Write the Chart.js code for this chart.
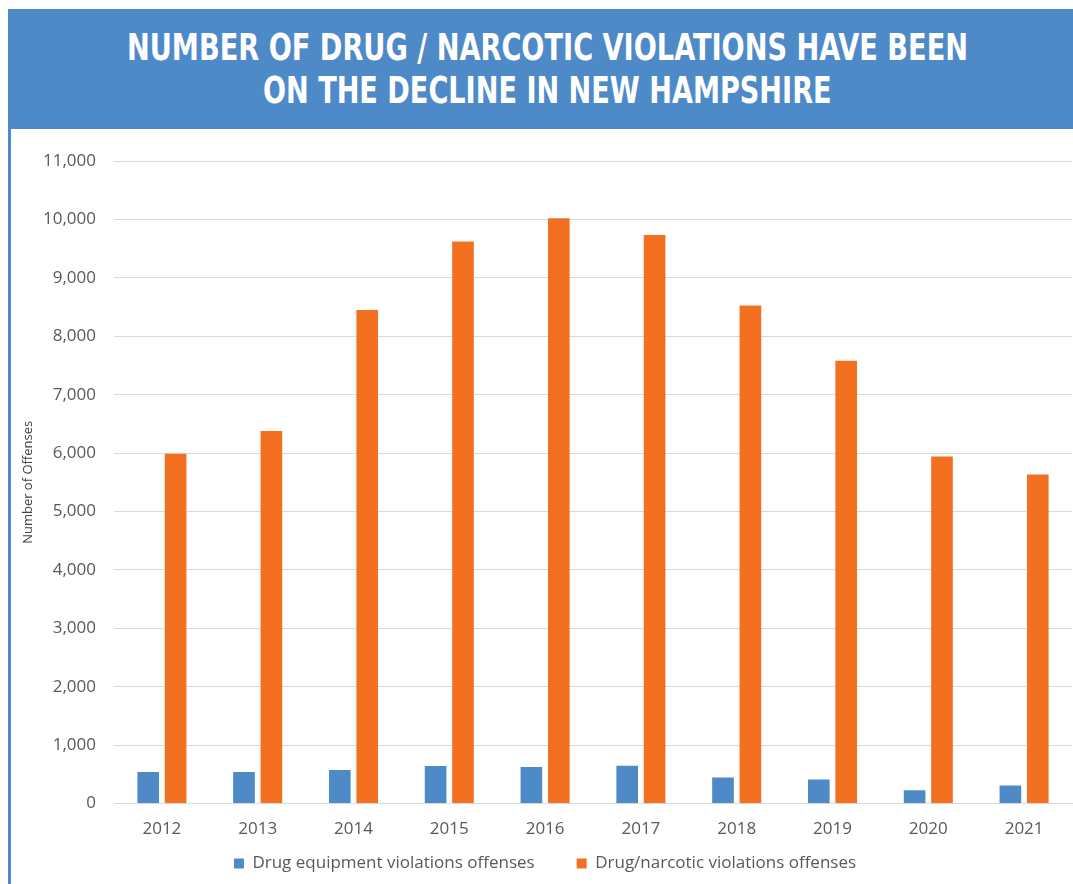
<!DOCTYPE html>
<html>
<head>
<meta charset="utf-8">
<script src="https://cdn.jsdelivr.net/npm/chart.js@4/dist/chart.umd.min.js"></script>
<style>
  body { margin: 0; background: #fff; }
  #banner { position: absolute; left: 8px; top: 9px; width: 1065px; height: 120px; background: #4f8ac8; }
  #edge { position: absolute; left: 8px; top: 129px; width: 3px; height: 755px; background: #4f8ac8; }
  .tline { position: absolute; white-space: nowrap; color: #fff; font-family: "DejaVu Sans Condensed", "Liberation Sans Narrow", sans-serif;
           font-weight: bold; font-size: 38px; line-height: 38px; transform-origin: center top; }
  #wrap { position: absolute; left: 10px; top: 129px; width: 1063px; height: 755px; }
</style>
</head>
<body>
<div id="banner"></div>
<div id="edge"></div>
<span class="tline" id="t1" data-w="841" data-top="27.6">NUMBER OF DRUG / NARCOTIC VIOLATIONS HAVE BEEN</span>
<span class="tline" id="t2" data-w="569" data-top="71.4">ON THE DECLINE IN NEW HAMPSHIRE</span>
<div id="wrap"><canvas id="chart"></canvas></div>
<script>
const years = ['2012', '2013', '2014', '2015', '2016', '2017', '2018', '2019', '2020', '2021'];
const equipment = [540, 539, 575, 645, 625, 648, 448, 414, 230, 310];
const narcotic = [5990, 6380, 8450, 9620, 10020, 9734, 8525, 7580, 5942, 5632];

// squeeze the heading lines to the widths in the reference
document.querySelectorAll('.tline').forEach(el => {
  const w = el.offsetWidth;
  const s = Number(el.dataset.w) / w;
  el.style.left = (547.5 - w / 2) + 'px';
  el.style.top = el.dataset.top + 'px';
  el.style.transform = 'scaleX(' + s + ')';
});

const font = 'Open Sans';
const gray = '#595959';

// the legend needs a wide gap between items but not the tall top padding that comes with it
const legendNudge = {
  id: 'legendNudge',
  afterLayout(chart) {
    const lg = chart.legend;
    lg.top -= 41; lg.bottom -= 41;
    lg.left += 4; lg.right += 4;
  }
};

new Chart(document.getElementById('chart'), {
  type: 'bar',
  data: {
    labels: years,
    datasets: [
      { label: 'Drug equipment violations offenses', data: equipment, backgroundColor: '#4e8ac8' },
      { label: 'Drug/narcotic violations offenses', data: narcotic, backgroundColor: '#f37021' }
    ]
  },
  plugins: [legendNudge],
  options: {
    responsive: true,
    maintainAspectRatio: false,
    animation: false,
    layout: { padding: { top: 32, right: 1, left: 0, bottom: -39 } },
    datasets: { bar: { categoryPercentage: 0.572, barPercentage: 0.79 } },
    scales: {
      x: {
        grid: { display: false, drawTicks: false },
        border: { color: '#d9d9d9' },
        ticks: { color: gray, font: { family: font, size: 17 }, padding: 15 }
      },
      y: {
        min: 0,
        max: 11000,
        ticks: {
          stepSize: 1000,
          color: gray,
          padding: 18,
          font: { family: font, size: 17 },
          callback: v => v.toLocaleString('en-US')
        },
        grid: { color: '#d9d9d9', drawTicks: false },
        border: { display: false },
        title: {
          display: true,
          text: 'Number of Offenses',
          color: '#404040',
          font: { family: font, size: 13 },
          padding: { top: 10, bottom: 0 }
        },
        afterFit: s => { s.width = 104; }
      }
    },
    plugins: {
      legend: {
        position: 'bottom',
        labels: {
          boxWidth: 10,
          boxHeight: 10,
          padding: 42,
          color: gray,
          font: { family: font, size: 17 }
        }
      },
      tooltip: { enabled: false }
    }
  }
});
</script>
</body>
</html>
